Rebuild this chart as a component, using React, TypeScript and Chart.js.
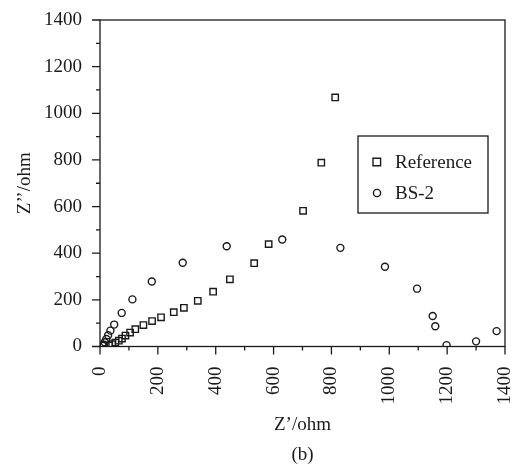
import React, { useEffect, useRef } from 'react';
import { Chart, registerables } from 'chart.js';

Chart.register(...registerables);

const seriesNames = ['Reference', 'BS-2'];
const referenceZr = [32, 42, 53, 65, 76, 88, 104, 122, 150, 180, 211, 255, 290, 338, 391, 449, 533, 583, 702, 765, 813];
const referenceZi = [4, 10, 17, 25, 34, 47, 60, 74, 92, 109, 125, 147, 166, 196, 235, 288, 357, 439, 582, 788, 1068];
const bs2Zr = [10, 13, 16, 22, 28, 36, 49, 75, 112, 179, 286, 438, 630, 831, 985, 1096, 1150, 1159, 1198, 1300, 1371];
const bs2Zi = [3, 8, 18, 32, 48, 68, 94, 144, 202, 279, 359, 430, 459, 423, 342, 248, 131, 87, 6, 22, 66];
const xMajorTicks = [0, 200, 400, 600, 800, 1000, 1200, 1400];
const xMinorTicks = [100, 300, 500, 700, 900, 1100, 1300];
const yMajorTicks = [0, 200, 400, 600, 800, 1000, 1200, 1400];
const yMinorTicks = [100, 300, 500, 700, 900, 1100, 1300];

const FONT = "'Liberation Serif', 'Times New Roman', serif";
const INK = '#1a1a1a';

const framePlugin = {
  id: 'frameTicks',
  afterDraw(chart: any) {
    const { ctx, chartArea } = chart;
    const xs = chart.scales.x;
    const ys = chart.scales.y;
    ctx.save();
    ctx.strokeStyle = INK;
    ctx.lineWidth = 1.3;
    ctx.strokeRect(chartArea.left, chartArea.top, chartArea.right - chartArea.left, chartArea.bottom - chartArea.top);
    ctx.beginPath();
    const tx = (v: number, len: number) => {
      const p = xs.getPixelForValue(v);
      ctx.moveTo(p, chartArea.bottom);
      ctx.lineTo(p, chartArea.bottom + len);
    };
    const ty = (v: number, len: number) => {
      const p = ys.getPixelForValue(v);
      ctx.moveTo(chartArea.left, p);
      ctx.lineTo(chartArea.left - len, p);
    };
    xMajorTicks.forEach((v) => tx(v, 8));
    xMinorTicks.forEach((v) => tx(v, 4));
    yMajorTicks.forEach((v) => ty(v, 8));
    yMinorTicks.forEach((v) => ty(v, 4));
    ctx.stroke();

    // legend box
    const bx = 358, by = 136, bw = 130, bh = 77;
    ctx.lineWidth = 1.3;
    ctx.strokeRect(bx, by, bw, bh);
    ctx.fillStyle = INK;
    ctx.font = `19px ${FONT}`;
    ctx.textBaseline = 'alphabetic';
    ctx.textAlign = 'left';
    const rowY = [162, 193];
    chart.data.datasets.forEach((ds: any, i: number) => {
      const cy = rowY[i];
      ctx.beginPath();
      ctx.lineWidth = 1.4;
      if (ds.pointStyle === 'rect') {
        ctx.rect(373, cy - 3.8, 7.6, 7.6);
      } else {
        ctx.arc(377, cy, 3.6, 0, Math.PI * 2);
      }
      ctx.stroke();
      ctx.fillText(ds.label, 395, cy + 6);
    });
    ctx.restore();
  },
};

export default function App() {
  const ref = useRef<HTMLCanvasElement | null>(null);
  useEffect(() => {
    document.body.style.margin = '0';
    if (!ref.current) return;
    const chart = new Chart(ref.current, {
      type: 'scatter',
      data: {
        datasets: [
          {
            label: seriesNames[0],
            data: referenceZr.map((x, i) => ({ x, y: referenceZi[i] })),
            pointStyle: 'rect',
            pointRadius: 4.5,
            borderColor: INK,
            backgroundColor: 'rgba(255,255,255,0)',
            borderWidth: 1.4,
          },
          {
            label: seriesNames[1],
            data: bs2Zr.map((x, i) => ({ x, y: bs2Zi[i] })),
            pointStyle: 'circle',
            pointRadius: 3.5,
            borderColor: INK,
            backgroundColor: 'rgba(255,255,255,0)',
            borderWidth: 1.4,
          },
        ],
      },
      options: {
        responsive: false,
        animation: false,
        layout: { padding: { top: 20, right: 8, left: 0, bottom: 0 } },
        plugins: { legend: { display: false }, tooltip: { enabled: false } },
        scales: {
          x: {
            type: 'linear',
            min: 0,
            max: 1400,
            grid: { display: false, drawTicks: false },
            border: { display: false },
            ticks: {
              stepSize: 200,
              maxRotation: 90,
              minRotation: 90,
              padding: 20,
              color: INK,
              font: { family: FONT, size: 19 },
              callback: (v: any) => String(v),
            },
            title: {
              display: true,
              text: ['Z\u2019/ohm', '(b)'],
              color: INK,
              font: { family: FONT, size: 19, lineHeight: 30 / 19 },
              padding: { top: 0, bottom: -3 },
            },
            afterFit(scale: any) {
              scale.height = 120.5;
              scale.paddingLeft = 0;
              scale.paddingRight = 0;
            },
          },
          y: {
            type: 'linear',
            min: 0,
            max: 1400,
            grid: { display: false, drawTicks: false },
            border: { display: false },
            ticks: {
              stepSize: 200,
              padding: 18,
              color: INK,
              font: { family: FONT, size: 19 },
              callback: (v: any) => String(v),
            },
            title: {
              display: true,
              text: 'Z\u2019\u2019/ohm',
              color: INK,
              font: { family: FONT, size: 19 },
              padding: { top: 13.6, bottom: 0 },
            },
            afterFit(scale: any) {
              scale.width = 100;
              scale.paddingTop = 0;
              scale.paddingBottom = 0;
            },
          },
        },
      },
      plugins: [framePlugin],
    });
    return () => chart.destroy();
  }, []);
  return (
    <div style={{ position: 'fixed', left: 0, top: 0, width: 513, height: 467, background: '#fff' }}>
      <canvas ref={ref} width={513} height={467} />
    </div>
  );
}
